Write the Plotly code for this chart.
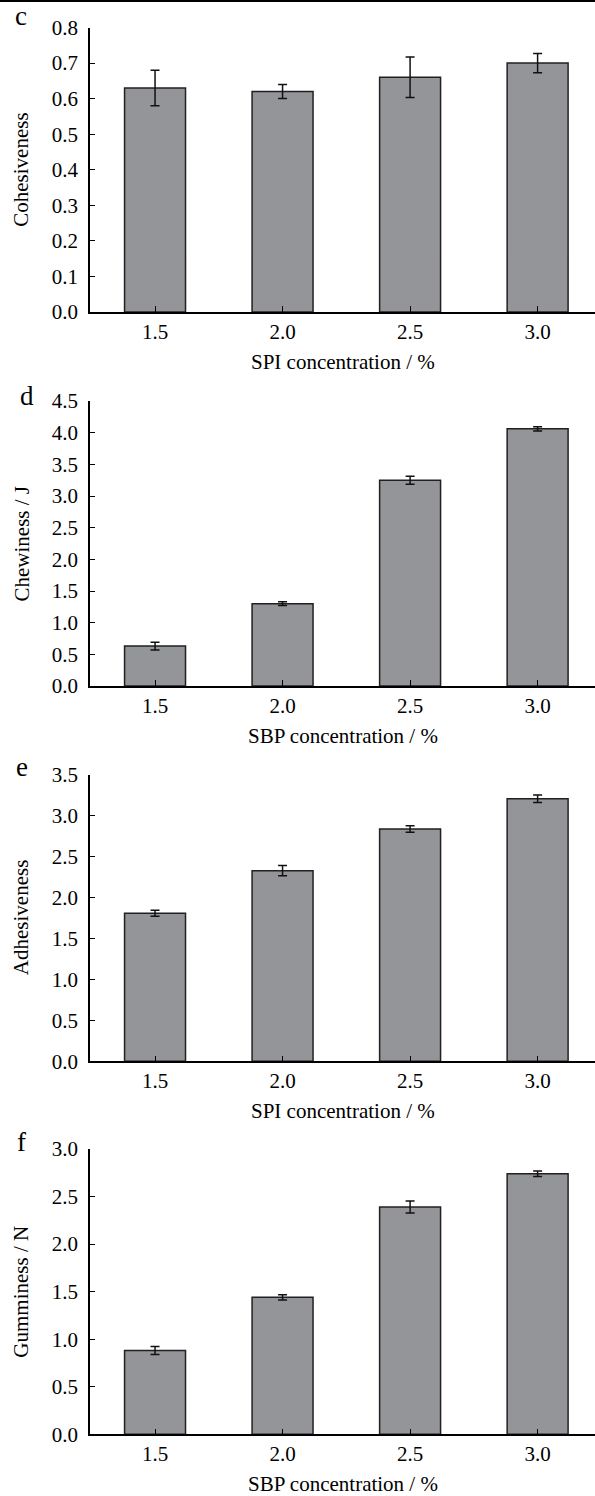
import plotly.graph_objects as go

categories = ["1.5", "2.0", "2.5", "3.0"]

cohesiveness = [0.63, 0.62, 0.66, 0.70]
cohesiveness_err = [0.05, 0.02, 0.057, 0.027]

chewiness = [0.63, 1.30, 3.25, 4.06]
chewiness_err = [0.06, 0.03, 0.063, 0.035]

adhesiveness = [1.81, 2.33, 2.84, 3.21]
adhesiveness_err = [0.037, 0.063, 0.04, 0.045]

gumminess = [0.88, 1.44, 2.39, 2.74]
gumminess_err = [0.042, 0.027, 0.063, 0.028]

panels = [
    dict(letter="c", y=cohesiveness, e=cohesiveness_err, ytitle="Cohesiveness",
         xtitle="SPI concentration / %", yrange=[0, 0.8], dtick=0.1,
         top=27.5, bottom=312, letter_x=21, letter_y=16),
    dict(letter="d", y=chewiness, e=chewiness_err, ytitle="Chewiness / J",
         xtitle="SBP concentration / %", yrange=[0, 4.5], dtick=0.5,
         top=401, bottom=686, letter_x=27, letter_y=396),
    dict(letter="e", y=adhesiveness, e=adhesiveness_err, ytitle="Adhesiveness",
         xtitle="SPI concentration / %", yrange=[0, 3.5], dtick=0.5,
         top=775, bottom=1061.3, letter_x=22, letter_y=767),
    dict(letter="f", y=gumminess, e=gumminess_err, ytitle="Gumminess / N",
         xtitle="SBP concentration / %", yrange=[0, 3.0], dtick=0.5,
         top=1149, bottom=1434.3, letter_x=21, letter_y=1142),
]

W, H = 595, 1496
FONT = "Liberation Serif"
x0 = 90 / W

fig = go.Figure()
layout = dict(
    width=W, height=H, margin=dict(l=0, r=0, t=0, b=0, pad=0, autoexpand=False),
    paper_bgcolor="white", plot_bgcolor="white", showlegend=False,
    font=dict(family=FONT, size=21, color="black"),
)
annotations = []
for i, p in enumerate(panels, start=1):
    xa = "x" if i == 1 else f"x{i}"
    ya = "y" if i == 1 else f"y{i}"
    fig.add_trace(go.Bar(
        x=categories, y=p["y"], xaxis=xa, yaxis=ya, width=0.478,
        marker=dict(color="#939598", line=dict(color="#231f20", width=1.5)),
        error_y=dict(type="data", array=p["e"], visible=True, color="#111111",
                     thickness=1.5, width=4.5),
    ))
    dom_y = [1 - p["bottom"] / H, 1 - p["top"] / H]
    layout["xaxis" if i == 1 else f"xaxis{i}"] = dict(
        domain=[x0, 1], anchor=ya, type="category", range=[-0.51, 3.45],
        automargin=False,
        showline=True, linecolor="black", linewidth=1.5, ticks="inside",
        ticklen=6, tickwidth=1.2, tickcolor="black", showgrid=False,
        zeroline=False, tickfont=dict(family=FONT, size=21),
    )
    layout["yaxis" if i == 1 else f"yaxis{i}"] = dict(
        domain=dom_y, anchor=xa, range=p["yrange"], dtick=p["dtick"],
        automargin=False,
        tickformat=".1f", showline=True, linecolor="black", linewidth=1.5,
        ticks="inside", ticklen=5, tickwidth=1.2, tickcolor="black",
        showgrid=False, zeroline=False, ticklabelstandoff=6,
        tickfont=dict(family=FONT, size=21),
    )
    annotations.append(dict(
        text=p["xtitle"], xref="paper", yref="paper", x=(x0 + 1) / 2,
        y=1 - (p["bottom"] + 50) / H, xanchor="center", yanchor="middle",
        showarrow=False, font=dict(family=FONT, size=21),
    ))
    annotations.append(dict(
        text=p["ytitle"], xref="paper", yref="paper", x=21 / W,
        y=(dom_y[0] + dom_y[1]) / 2, xanchor="center", yanchor="middle",
        textangle=-90, showarrow=False, font=dict(family=FONT, size=21),
    ))
    annotations.append(dict(
        text=p["letter"], xref="paper", yref="paper", x=p["letter_x"] / W,
        y=1 - p["letter_y"] / H, xanchor="center", yanchor="middle",
        showarrow=False, font=dict(family=FONT, size=27),
    ))

layout["annotations"] = annotations
layout["shapes"] = [dict(type="line", xref="paper", yref="paper", x0=0, x1=1,
                         y0=1 - 1 / H, y1=1 - 1 / H,
                         line=dict(color="black", width=2))]
fig.update_layout(**layout)
fig.write_html(
    "out.html",
    config={"displayModeBar": False},
    post_script="document.body.style.margin='0';",
)
